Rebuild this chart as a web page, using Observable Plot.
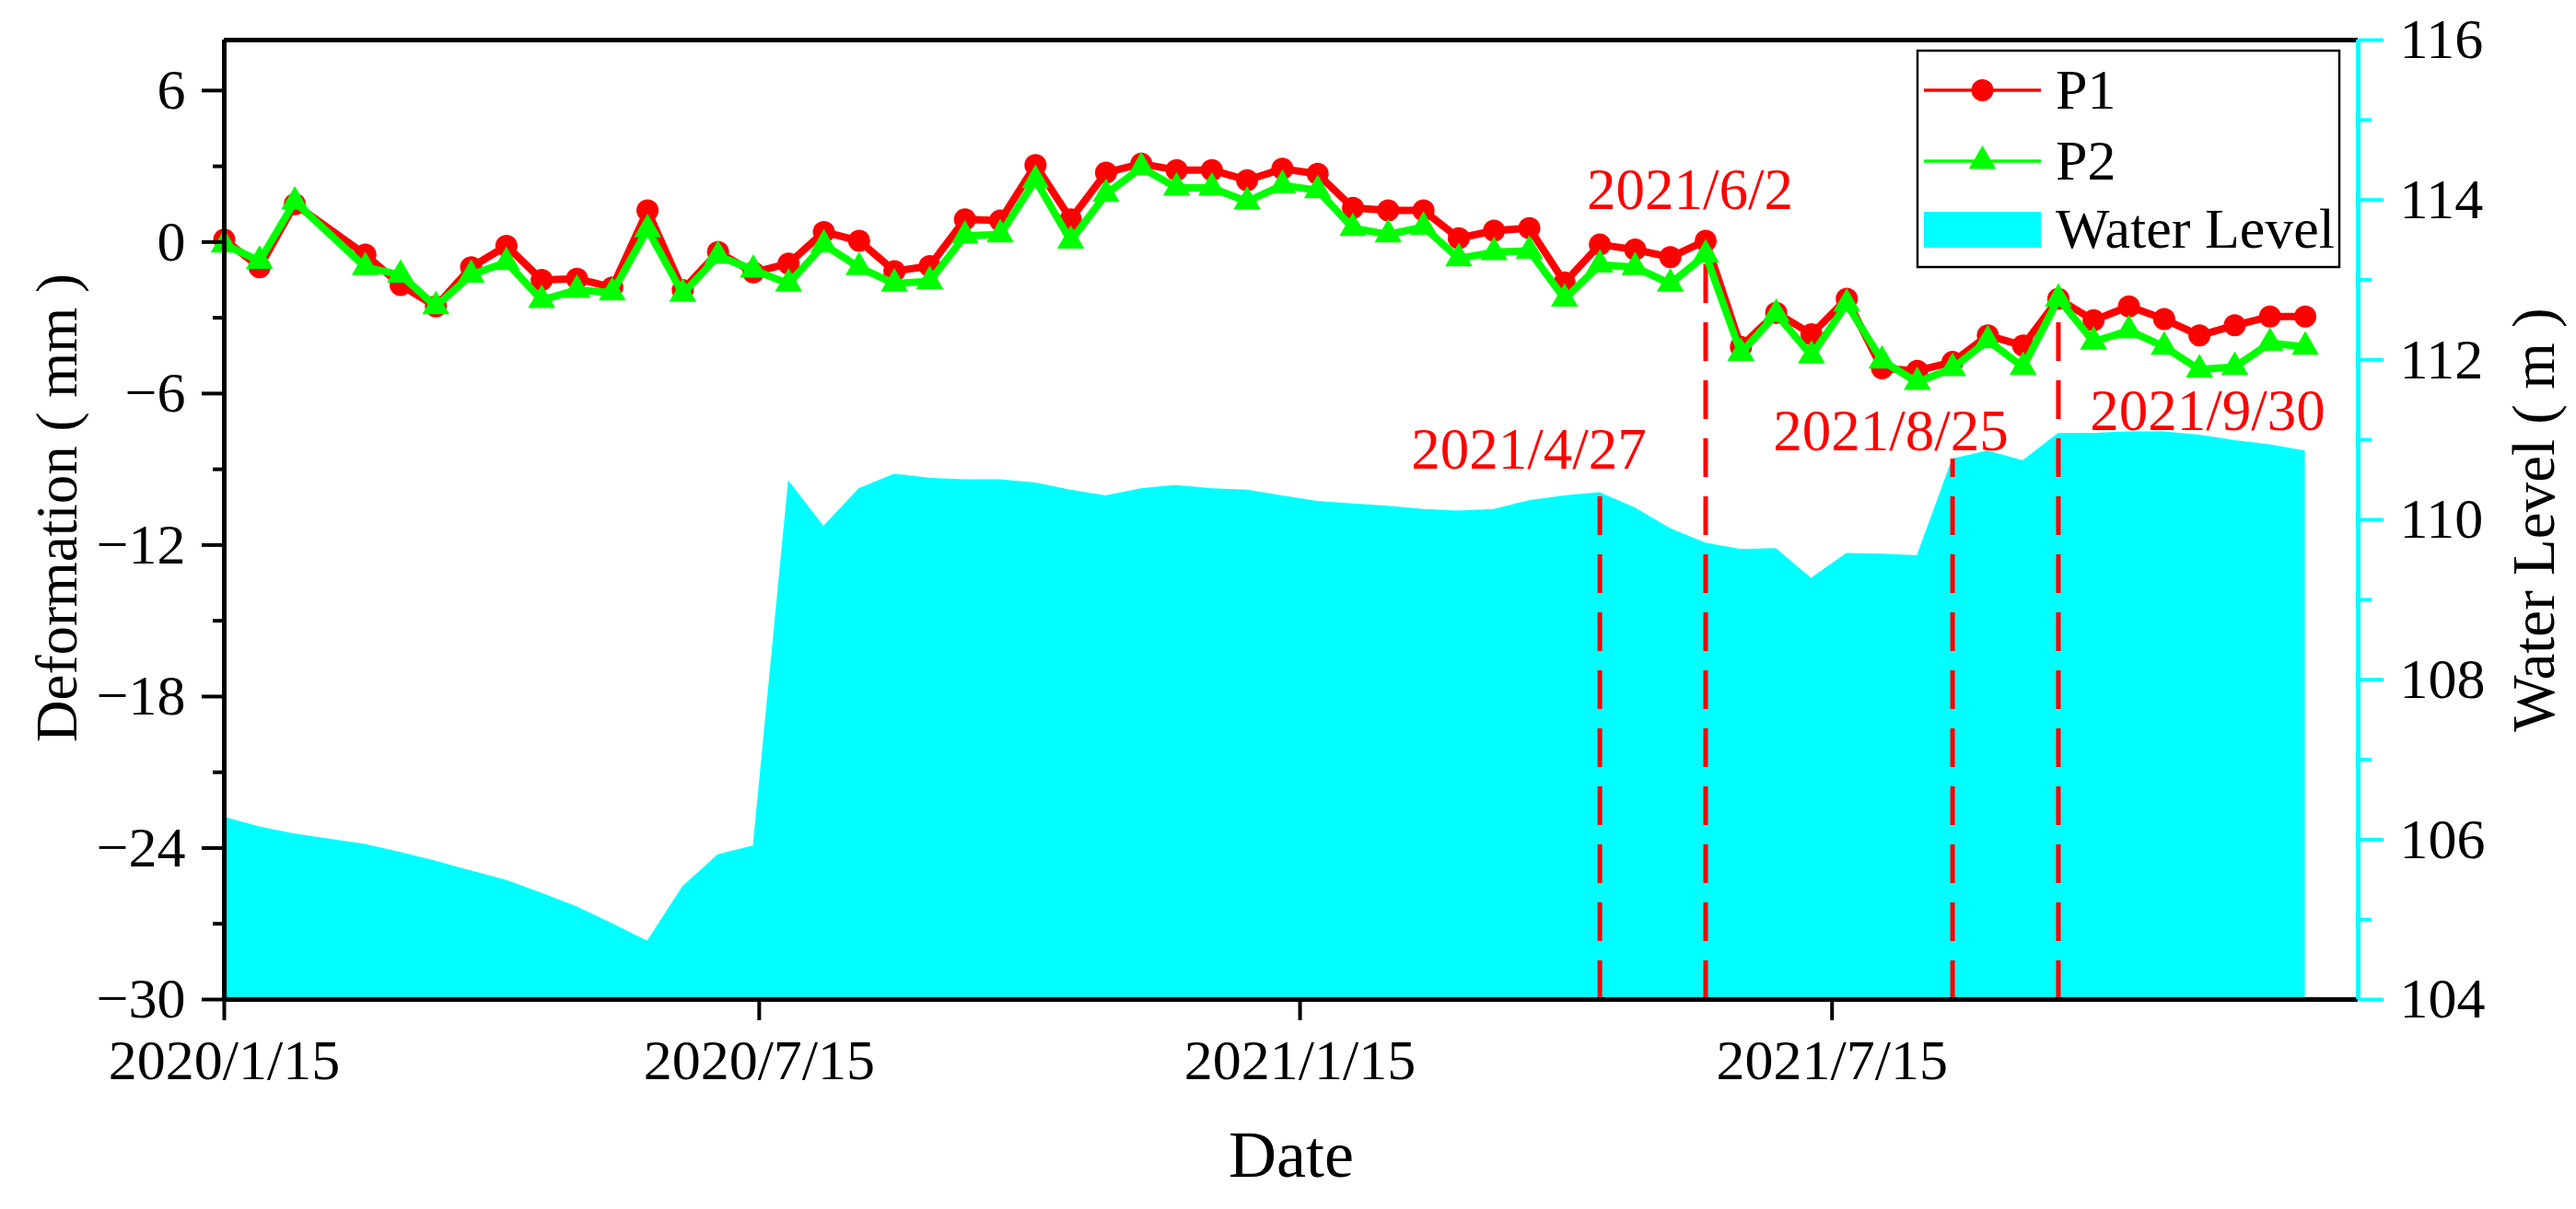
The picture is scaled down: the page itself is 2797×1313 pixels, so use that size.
<!DOCTYPE html>
<html>
<head>
<meta charset="utf-8">
<script src="https://cdn.jsdelivr.net/npm/d3@7"></script>
<script src="https://cdn.jsdelivr.net/npm/@observablehq/plot@0.6"></script>
<style>
  html, body { margin: 0; padding: 0; background: #fff; }
  #chart svg { display: block; }
</style>
</head>
<body>
<div id="chart"></div>
<script>
// ---------- data ----------
const dates = [
  "2020-01-15","2020-01-27","2020-02-08","2020-03-03","2020-03-15","2020-03-27","2020-04-08","2020-04-20",
  "2020-05-02","2020-05-14","2020-05-26","2020-06-07","2020-06-19","2020-07-01","2020-07-13","2020-07-25",
  "2020-08-06","2020-08-18","2020-08-30","2020-09-11","2020-09-23","2020-10-05","2020-10-17","2020-10-29",
  "2020-11-10","2020-11-22","2020-12-04","2020-12-16","2020-12-28","2021-01-09","2021-01-21","2021-02-02",
  "2021-02-14","2021-02-26","2021-03-10","2021-03-22","2021-04-03","2021-04-15","2021-04-27","2021-05-09",
  "2021-05-21","2021-06-02","2021-06-14","2021-06-26","2021-07-08","2021-07-20","2021-08-01","2021-08-13",
  "2021-08-25","2021-09-06","2021-09-18","2021-09-30","2021-10-12","2021-10-24","2021-11-05","2021-11-17",
  "2021-11-29","2021-12-11","2021-12-23"
];
const p1 = [
  0.1,-1.0,1.5,-0.5,-1.7,-2.55,-1.0,-0.15,-1.5,-1.45,-1.8,1.25,-1.9,-0.4,-1.2,-0.85,
  0.4,0.05,-1.15,-0.95,0.9,0.85,3.05,0.9,2.75,3.1,2.85,2.85,2.45,2.9,2.7,1.35,
  1.25,1.25,0.15,0.45,0.55,-1.6,-0.1,-0.3,-0.6,0.05,-4.15,-2.8,-3.65,-2.25,-5.0,-5.1,
  -4.75,-3.7,-4.1,-2.25,-3.1,-2.55,-3.05,-3.7,-3.3,-2.95,-2.95
];
const p2 = [
  -0.1,-0.75,1.6,-1.0,-1.3,-2.55,-1.3,-0.8,-2.3,-1.9,-2.0,0.5,-2.05,-0.55,-1.1,-1.65,
  -0.1,-1.0,-1.65,-1.55,0.25,0.3,2.45,0.05,1.9,2.95,2.15,2.15,1.6,2.25,2.05,0.55,
  0.3,0.6,-0.65,-0.4,-0.35,-2.25,-0.9,-1.0,-1.65,-0.5,-4.4,-2.85,-4.5,-2.45,-4.7,-5.55,
  -5.0,-3.9,-4.95,-2.25,-3.95,-3.5,-4.15,-5.05,-4.95,-4.0,-4.15
];
const waterLevel = [
  106.28,106.16,106.07,105.94,105.84,105.73,105.61,105.49,105.33,105.16,104.95,104.73,105.41,105.81,105.92,110.49,
  109.92,110.39,110.57,110.52,110.50,110.50,110.46,110.37,110.30,110.39,110.43,110.39,110.37,110.30,110.23,110.20,
  110.17,110.13,110.11,110.13,110.24,110.30,110.34,110.15,109.89,109.71,109.63,109.64,109.27,109.58,109.57,109.55,
  110.76,110.86,110.74,111.08,111.08,111.10,111.10,111.06,110.99,110.94,110.86
];
const xTicks = ["2020-01-15","2020-07-15","2021-01-15","2021-07-15"];
const yTicks = [-30,-24,-18,-12,-6,0,6];
const yMinorTicks = [-27,-21,-15,-9,-3,3];
const wTicks = [104,106,108,110,112,114,116];
const wMinorTicks = [105,107,109,111,113,115];
const eventDates = ["2021-04-27","2021-06-02","2021-08-25","2021-09-30"];
const eventRef = ["water","p1","water","p1"];
const seriesNames = ["P1","P2","Water Level"];
const xDomain = ["2020-01-15","2022-01-10"];
const yDomain = [-30, 8];
const wDomain = [104, 116];

// ---------- helpers ----------
const parse = s => new Date(s + "T00:00:00Z");
const fmtDate = d => `${d.getUTCFullYear()}/${d.getUTCMonth() + 1}/${d.getUTCDate()}`;
const toLeft = w => yDomain[0] + (w - wDomain[0]) * (yDomain[1] - yDomain[0]) / (wDomain[1] - wDomain[0]);
const fromLeft = v => wDomain[0] + (v - yDomain[0]) * (wDomain[1] - wDomain[0]) / (yDomain[1] - yDomain[0]);

const rows = dates.map((d, i) => ({date: parse(d), p1: p1[i], p2: p2[i], w: waterLevel[i]}));
const events = eventDates.map((d, i) => {
  const idx = dates.indexOf(d);
  return {
    date: parse(d),
    label: fmtDate(parse(d)),
    top: eventRef[i] === "water" ? toLeft(waterLevel[idx]) : p1[idx]
  };
});

const RED = "#ff0000", GREEN = "#00ff00", CYAN = "#00ffff";
const FONT = "'Liberation Serif', 'Times New Roman', serif";
const W = 2797, H = 1313;
const mL = 243, mR = 237, mT = 43, mB = 228;

// per-annotation offsets (px) from the top of its dashed line
const labelOffsets = [[-77, -26], [-17, -34], [-67, -10], [162, 142]];

const marks = [
  Plot.areaY(rows, {x: "date", y1: yDomain[0], y2: d => toLeft(d.w), fill: CYAN, curve: "linear"}),
  Plot.ruleX(events, {x: "date", y1: yDomain[0], y2: "top", stroke: RED, strokeWidth: 5, strokeDasharray: "42,21"}),
  Plot.line(rows, {x: "date", y: "p1", stroke: RED, strokeWidth: 8}),
  Plot.dot(rows, {x: "date", y: "p1", r: 12, fill: RED, symbol: "circle"}),
  Plot.line(rows, {x: "date", y: "p2", stroke: GREEN, strokeWidth: 8}),
  Plot.dot(rows, {x: "date", y: "p2", r: 11, fill: GREEN, symbol: "triangle"}),
  ...events.map((e, i) => Plot.text([e], {
    x: "date", y: "top", text: "label", fill: RED, fontSize: 63,
    textAnchor: "middle", lineAnchor: "bottom",
    dx: labelOffsets[i][0], dy: labelOffsets[i][1]
  })),
  // frame
  Plot.ruleY([yDomain[0]], {stroke: "black", strokeWidth: 5}),
  Plot.ruleY([yDomain[1]], {stroke: "black", strokeWidth: 5}),
  Plot.ruleX([parse(xDomain[0])], {stroke: "black", strokeWidth: 5}),
  Plot.ruleX([parse(xDomain[1])], {stroke: CYAN, strokeWidth: 5}),
  // axes
  Plot.axisX(xTicks.map(parse), {anchor: "bottom", tickSize: 23, tickPadding: 19, fontSize: 62,
    strokeWidth: 4, tickFormat: fmtDate, label: null}),
  Plot.axisY(yTicks, {anchor: "left", tickSize: 24, tickPadding: 18, fontSize: 62,
    strokeWidth: 4, label: null}),
  Plot.axisY(yMinorTicks, {anchor: "left", tickSize: 12, strokeWidth: 4, tickFormat: () => "", label: null}),
  Plot.axisY(wTicks.map(toLeft), {anchor: "right", tickSize: 27, tickPadding: 18, fontSize: 62,
    stroke: CYAN, fill: "black", strokeWidth: 4, tickFormat: d => String(Math.round(fromLeft(d))), label: null}),
  Plot.axisY(wMinorTicks.map(toLeft), {anchor: "right", tickSize: 14, stroke: CYAN, strokeWidth: 4,
    tickFormat: () => "", label: null}),
  // axis titles
  Plot.text(["Deformation ( mm )"], {frameAnchor: "left", rotate: -90, dx: -181, dy: -13, fontSize: 63,
    textAnchor: "middle", lineAnchor: "middle", fill: "black"}),
  Plot.text(["Water Level ( m )"], {frameAnchor: "right", rotate: -90, dx: 192, dy: 0, fontSize: 65,
    textAnchor: "middle", lineAnchor: "middle", fill: "black"}),
  Plot.text(["Date"], {frameAnchor: "bottom", dy: 192, fontSize: 72, textAnchor: "middle",
    lineAnchor: "bottom", fill: "black"})
];

const chart = Plot.plot({
  width: W, height: H,
  marginLeft: mL, marginRight: mR, marginTop: mT, marginBottom: mB,
  style: {fontFamily: FONT, background: "white", color: "black", overflow: "visible"},
  x: {type: "utc", domain: xDomain.map(parse)},
  y: {domain: yDomain},
  marks
});
document.getElementById("chart").appendChild(chart);

// ---------- legend (inside plot, top right) ----------
const svg = d3.select(chart.tagName.toLowerCase() === "svg" ? chart : chart.querySelector("svg"));
const lg = svg.append("g").attr("font-family", FONT).attr("font-size", 62).attr("text-anchor", "start");
const bx = W - mR - 478, by = mT + 12, bw = 458, bh = 235;
lg.append("rect").attr("x", bx).attr("y", by).attr("width", bw).attr("height", bh)
  .attr("fill", "white").attr("stroke", "black").attr("stroke-width", 2.5);
const items = [
  {name: seriesNames[0], type: "circle", color: RED, cy: by + 43},
  {name: seriesNames[1], type: "triangle", color: GREEN, cy: by + 120},
  {name: seriesNames[2], type: "area", color: CYAN, cy: by + 194}
];
const sx0 = bx + 7, sx1 = bx + 134, sxc = (sx0 + sx1) / 2;
items.forEach(it => {
  if (it.type === "area") {
    lg.append("rect").attr("x", sx0).attr("y", it.cy - 19).attr("width", sx1 - sx0).attr("height", 39).attr("fill", it.color);
  } else {
    lg.append("line").attr("x1", sx0).attr("x2", sx1).attr("y1", it.cy).attr("y2", it.cy)
      .attr("stroke", it.color).attr("stroke-width", 3.5);
    const sym = it.type === "circle" ? d3.symbolCircle : d3.symbolTriangle;
    lg.append("path").attr("d", d3.symbol(sym, it.type === "circle" ? Math.PI * 12 * 12 : Math.PI * 11 * 11)())
      .attr("transform", `translate(${sxc},${it.cy})`).attr("fill", it.color);
  }
  lg.append("text").attr("x", bx + 150).attr("y", it.cy).attr("dy", "0.32em")
    .attr("text-anchor", "start").attr("fill", "black").text(it.name);
});
</script>
</body>
</html>
